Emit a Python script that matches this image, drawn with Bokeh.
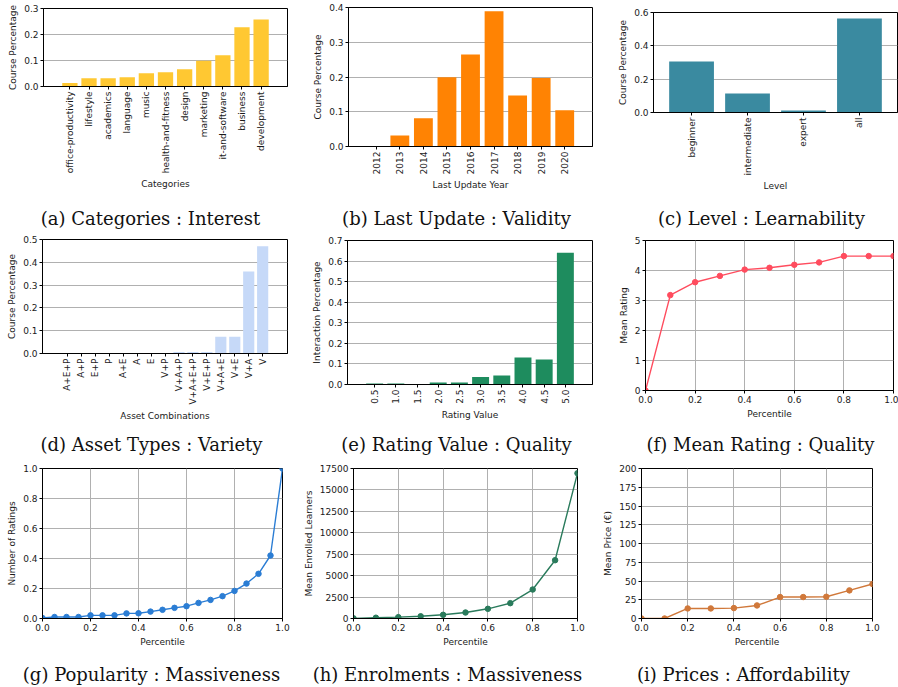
import math
from bokeh.plotting import figure
from bokeh.models import FactorRange, Range1d, FixedTicker, PrintfTickFormatter, Label, ColumnDataSource
from bokeh.embed import file_html
from bokeh.resources import INLINE

# ---------------- data ----------------
cat_names = ["office-productivity", "lifestyle", "academics", "language", "music",
             "health-and-fitness", "design", "marketing", "it-and-software", "business", "development"]
cat_values = [0.013, 0.032, 0.032, 0.036, 0.051, 0.055, 0.066, 0.099, 0.120, 0.228, 0.258]

year_names = ["2012", "2013", "2014", "2015", "2016", "2017", "2018", "2019", "2020"]
year_values = [0.0, 0.032, 0.081, 0.199, 0.265, 0.389, 0.147, 0.197, 0.104]

level_names = ["beginner", "intermediate", "expert", "all"]
level_values = [0.306, 0.114, 0.012, 0.564]

asset_names = ["A+E+P", "A+P", "E+P", "P", "A+E", "A", "E", "V+P", "V+A+P", "V+A+E+P",
               "V+E+P", "V+A+E", "V+E", "V+A", "V"]
asset_values = [0.0001, 0.0002, 0.0002, 0.0003, 0.0004, 0.0005, 0.0007, 0.001, 0.007, 0.007,
                0.007, 0.074, 0.074, 0.360, 0.470]

rating_names = ["0.5", "1.0", "1.5", "2.0", "2.5", "3.0", "3.5", "4.0", "4.5", "5.0"]
rating_values = [0.005, 0.005, 0.003, 0.010, 0.010, 0.036, 0.044, 0.131, 0.121, 0.640]

mean_pct = [0.0, 0.1, 0.2, 0.3, 0.4, 0.5, 0.6, 0.7, 0.8, 0.9, 1.0]
mean_rating = [0.0, 3.18, 3.61, 3.82, 4.03, 4.09, 4.19, 4.27, 4.48, 4.48, 4.48]

pop_pct = [0.0, 0.05, 0.1, 0.15, 0.2, 0.25, 0.3, 0.35, 0.4, 0.45, 0.5, 0.55, 0.6, 0.65,
           0.7, 0.75, 0.8, 0.85, 0.9, 0.95, 1.0]
pop_ratings = [0.003, 0.010, 0.010, 0.010, 0.021, 0.021, 0.021, 0.034, 0.035, 0.046, 0.058,
               0.071, 0.082, 0.104, 0.124, 0.149, 0.184, 0.233, 0.298, 0.420, 1.0]

enr_pct = [0.0, 0.1, 0.2, 0.3, 0.4, 0.5, 0.6, 0.7, 0.8, 0.9, 1.0]
enr_learners = [20, 90, 160, 260, 430, 700, 1130, 1790, 3380, 6800, 16950]

price_pct = [0.0, 0.1, 0.2, 0.3, 0.4, 0.5, 0.6, 0.7, 0.8, 0.9, 1.0]
price_mean = [0.0, 0.0, 13.4, 13.4, 13.9, 17.4, 28.6, 28.6, 29.0, 37.5, 46.0]

captions = ["(a) Categories : Interest", "(b) Last Update : Validity", "(c) Level : Learnability",
            "(d) Asset Types : Variety", "(e) Rating Value : Quality", "(f) Mean Rating : Quality",
            "(g) Popularity : Massiveness", "(h) Enrolments : Massiveness", "(i) Prices : Affordability"]

# ---------------- styling ----------------
SANS = "DejaVu Sans"
SERIF = "DejaVu Serif"
TXT = "#1a1a1a"
GRID = "#b0b0b0"
FS = "9px"


def place(left, top):
    return {"position": "absolute", "left": f"{left}px", "top": f"{top}px"}


def make_fig(geom, x_range, y_range, xgrid):
    left, top, width, height, bl, br, bt, bb = geom
    p = figure(width=width, height=height, x_range=x_range, y_range=y_range,
               output_backend="svg", toolbar_location=None,
               min_border_left=bl, min_border_right=br,
               min_border_top=bt, min_border_bottom=bb,
               styles=place(left, top))
    p.outline_line_color = "black"
    p.outline_line_width = 1
    p.outline_line_alpha = 1
    for ax in (p.xaxis[0], p.yaxis[0]):
        ax.axis_line_color = "black"
        ax.major_tick_line_color = "black"
        ax.major_tick_out = 3
        ax.major_tick_in = 0
        ax.minor_tick_line_color = None
        ax.major_label_text_font = SANS
        ax.major_label_text_font_size = FS
        ax.major_label_text_color = TXT
        ax.major_label_standoff = 2
        ax.axis_label_text_font = SANS
        ax.axis_label_text_font_size = FS
        ax.axis_label_text_font_style = "normal"
        ax.axis_label_text_color = TXT
        ax.axis_label_standoff = 3
    p.ygrid.grid_line_color = GRID
    p.ygrid.grid_line_width = 1
    if xgrid:
        p.xgrid.grid_line_color = GRID
        p.xgrid.grid_line_width = 1
    else:
        p.xgrid.grid_line_color = None
    return p


def bar_panel(names, values, color, xlabel, ylabel, ymax, ystep, geom):
    n = len(names)
    pad = 2 * (0.05 * (n - 0.2) - 0.1)
    xr = FactorRange(factors=names, range_padding=pad, range_padding_units="absolute")
    p = make_fig(geom, xr, Range1d(0, ymax), xgrid=False)
    src = ColumnDataSource(dict(x=names, top=values))
    p.vbar(x="x", top="top", width=0.8, source=src, fill_color=color, line_color=None)
    p.xaxis.major_label_orientation = math.pi / 2
    p.xaxis.axis_label = xlabel
    p.yaxis.axis_label = ylabel
    ticks = [round(i * ystep, 4) for i in range(int(round(ymax / ystep)) + 1)]
    p.yaxis.ticker = FixedTicker(ticks=ticks)
    p.yaxis.formatter = PrintfTickFormatter(format="%.1f")
    p.ygrid.ticker = FixedTicker(ticks=ticks)
    return p


def line_panel(xs, ys, color, ylabel, ymax, ystep, yfmt, geom):
    p = make_fig(geom, Range1d(0, 1), Range1d(0, ymax), xgrid=True)
    src = ColumnDataSource(dict(x=xs, y=ys))
    p.line("x", "y", source=src, line_color=color, line_width=1.4)
    p.scatter("x", "y", source=src, size=5.5, fill_color=color, line_color=color)
    p.xaxis.axis_label = "Percentile"
    p.yaxis.axis_label = ylabel
    xt = [0.0, 0.2, 0.4, 0.6, 0.8, 1.0]
    p.xaxis.ticker = FixedTicker(ticks=xt)
    p.xgrid.ticker = FixedTicker(ticks=xt)
    p.xaxis.formatter = PrintfTickFormatter(format="%.1f")
    yt = [round(i * ystep, 4) for i in range(int(round(ymax / ystep)) + 1)]
    p.yaxis.ticker = FixedTicker(ticks=yt)
    p.ygrid.ticker = FixedTicker(ticks=yt)
    p.yaxis.formatter = PrintfTickFormatter(format=yfmt)
    return p


def caption_strip(top, height, items, baseline):
    # items: (caption text, centre x in px); baseline measured from strip bottom
    p = figure(width=898, height=height, x_range=Range1d(0, 898), y_range=Range1d(0, height),
               output_backend="svg", toolbar_location=None, min_border=0,
               x_axis_location=None, y_axis_location=None, styles=place(0, top))
    p.outline_line_color = None
    p.grid.visible = False
    for text, cx in items:
        p.add_layout(Label(x=cx, y=baseline, text=text, text_align="center",
                           text_baseline="alphabetic", text_font=SERIF,
                           text_font_size="18px", text_color="#111111"))
    return p


# geometry: (left, top, width, height, border_left, border_right, border_top, border_bottom)
pa = bar_panel(cat_names, cat_values, "#ffc832", "Categories", "Course Percentage", 0.3, 0.1,
               (0, 0, 300, 202, 43, 13, 8, 116))
pb = bar_panel(year_names, year_values, "#ff8303", "Last Update Year", "Course Percentage", 0.4, 0.1,
               (300, 0, 300, 202, 48, 8, 7, 56))
pc = bar_panel(level_names, level_values, "#3a8aa0", "Level", "Course Percentage", 0.6, 0.2,
               (600, 0, 298, 202, 53, 1, 12, 90))

pd_ = bar_panel(asset_names, asset_values, "#c6d9f8", "Asset Combinations", "Course Percentage", 0.5, 0.1,
                (0, 232, 300, 200, 42, 13, 7, 79))
pe = bar_panel(rating_names, rating_values, "#1e8c5e", "Rating Value", "Interaction Percentage", 0.7, 0.1,
               (300, 232, 300, 200, 47, 8, 8, 48))
pf = line_panel(mean_pct, mean_rating, "#ff4c5e", "Mean Rating", 5, 1, "%d",
                (600, 232, 298, 200, 45, 5, 8, 42))

pg = line_panel(pop_pct, pop_ratings, "#2b7dd4", "Number of Ratings", 1.0, 0.2, "%.1f",
                (0, 460, 300, 197, 42, 18, 8, 39))
ph = line_panel(enr_pct, enr_learners, "#2a7b5c", "Mean Enrolled Learners", 17500, 2500, "%d",
                (300, 460, 300, 197, 51, 23, 8, 39))
pi = line_panel(price_pct, price_mean, "#d0783a", "Mean Price (€)", 200, 25, "%d",
                (600, 460, 298, 197, 35, 26, 8, 39))

cap1 = caption_strip(202, 30, [(captions[0], 150), (captions[1], 456), (captions[2], 761)], 14)
cap2 = caption_strip(432, 28, [(captions[3], 151), (captions[4], 456), (captions[5], 760)], 16)
cap3 = caption_strip(657, 29, [(captions[6], 151), (captions[7], 447), (captions[8], 743)], 12)

roots = [pa, pb, pc, pd_, pe, pf, pg, ph, pi, cap1, cap2, cap3]
open("out.html", "w").write(file_html(roots, INLINE))
